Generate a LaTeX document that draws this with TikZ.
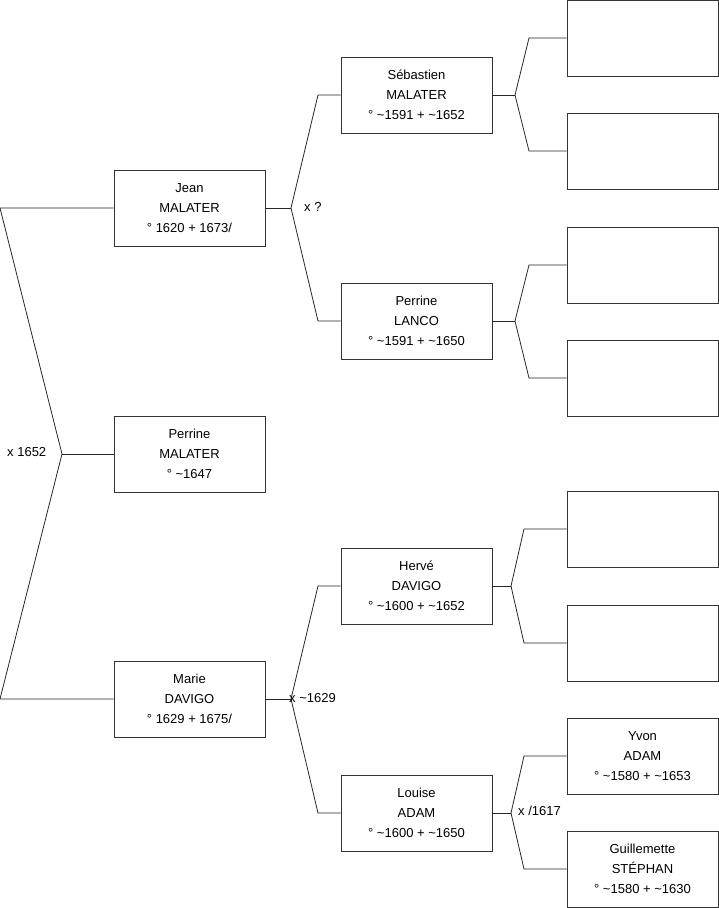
\documentclass[tikz,border=0pt]{standalone}
\usepackage{fontspec}
\setmainfont{Liberation Sans}
\begin{document}
\begin{tikzpicture}[x=1pt, y=-1pt,
  person/.style={draw=black!80, line width=0.8pt, minimum width=151pt, minimum height=76pt,
    inner sep=0pt, align=center, font=\fontsize{13}{20}\selectfont},
  link/.style={draw=black!85, line width=0.8pt},
  union/.style={anchor=west, inner sep=0pt, font=\fontsize{13}{15}\selectfont}]
  \useasboundingbox (0,0) rectangle (719,908);

  % Generation 1: the child
  \node[person] (perrine) at (189.5,454) {Perrine\\MALATER\\° \textasciitilde1647};

  % Generation 2: the parents
  \node[person] (jean) at (189.5,208) {Jean\\MALATER\\° 1620 + 1673/};
  \node[person] (marie) at (189.5,699) {Marie\\DAVIGO\\° 1629 + 1675/};

  % Generation 3: the grandparents
  \node[person] (sebastien) at (416.5,95) {Sébastien\\MALATER\\° \textasciitilde1591 + \textasciitilde1652};
  \node[person] (lanco) at (416.5,321) {Perrine\\LANCO\\° \textasciitilde1591 + \textasciitilde1650};
  \node[person] (herve) at (416.5,586) {Hervé\\DAVIGO\\° \textasciitilde1600 + \textasciitilde1652};
  \node[person] (louise) at (416.5,813) {Louise\\ADAM\\° \textasciitilde1600 + \textasciitilde1650};

  % Generation 4: the great-grandparents
  \node[person] (gg1) at (642.5,38) {};
  \node[person] (gg2) at (642.5,151) {};
  \node[person] (gg3) at (642.5,265) {};
  \node[person] (gg4) at (642.5,378) {};
  \node[person] (gg5) at (642.5,529) {};
  \node[person] (gg6) at (642.5,643) {};
  \node[person] (yvon) at (642.5,756) {Yvon\\ADAM\\° \textasciitilde1580 + \textasciitilde1653};
  \node[person] (guillemette) at (642.5,869) {Guillemette\\STÉPHAN\\° \textasciitilde1580 + \textasciitilde1630};

  % Fork points
  \coordinate (f0) at (62,454);
  \coordinate (f0a) at (0,208);
  \coordinate (f0b) at (0,699);
  \coordinate (f1) at (291,208);
  \coordinate (f1a) at (318,95);
  \coordinate (f1b) at (318,321);
  \coordinate (f2) at (291,699);
  \coordinate (f2a) at (318,586);
  \coordinate (f2b) at (318,813);
  \coordinate (f3) at (515,95);
  \coordinate (f3a) at (529,38);
  \coordinate (f3b) at (529,151);
  \coordinate (f4) at (515,321);
  \coordinate (f4a) at (529,265);
  \coordinate (f4b) at (529,378);
  \coordinate (f5) at (511,586);
  \coordinate (f5a) at (524,529);
  \coordinate (f5b) at (524,643);
  \coordinate (f6) at (511,813);
  \coordinate (f6a) at (524,756);
  \coordinate (f6b) at (524,869);

  % Connectors
  \draw[link] (jean.west) -- (f0a) -- (f0) -- (f0b) -- (marie.west);
  \draw[link] (f0) -- (perrine.west);
  \draw[link] (jean.east) -- (f1);
  \draw[link] (sebastien.west) -- (f1a) -- (f1) -- (f1b) -- (lanco.west);
  \draw[link] (marie.east) -- (f2);
  \draw[link] (herve.west) -- (f2a) -- (f2) -- (f2b) -- (louise.west);
  \draw[link] (sebastien.east) -- (f3);
  \draw[link] (gg1.west) -- (f3a) -- (f3) -- (f3b) -- (gg2.west);
  \draw[link] (lanco.east) -- (f4);
  \draw[link] (gg3.west) -- (f4a) -- (f4) -- (f4b) -- (gg4.west);
  \draw[link] (herve.east) -- (f5);
  \draw[link] (gg5.west) -- (f5a) -- (f5) -- (f5b) -- (gg6.west);
  \draw[link] (louise.east) -- (f6);
  \draw[link] (yvon.west) -- (f6a) -- (f6) -- (f6b) -- (guillemette.west);

  % Marriage labels
  \node[union] (m0) at (7,452) {x 1652};
  \node[union] (m1) at (304,207) {x ?};
  \node[union] (m2) at (289,698) {x \textasciitilde1629};
  \node[union] (m6) at (518,811) {x /1617};
\end{tikzpicture}
\end{document}
